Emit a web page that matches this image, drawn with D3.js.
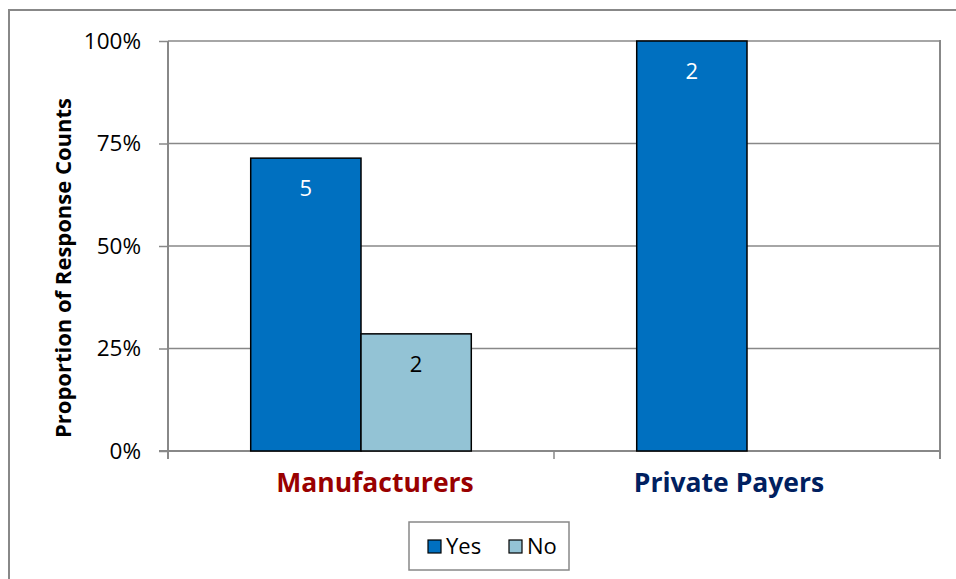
<!DOCTYPE html>
<html><head><meta charset="utf-8">
<script src="https://cdn.jsdelivr.net/npm/d3@7"></script>
<style>body{margin:0;background:#fff}svg{display:block}text{font-family:"Open Sans",sans-serif}</style>
</head><body>
<svg id="c" width="956" height="579"></svg>
<script>
const categories = ["Manufacturers", "Private Payers"];
const seriesNames = ["Yes", "No"];
const yesValues = [5/7, 1.0];
const noValues = [2/7, 0];
const yesCounts = [5, 2];
const noCounts = [2, 0];
const yTicks = [0, 0.25, 0.5, 0.75, 1.0];
const yTickLabels = ["0%", "25%", "50%", "75%", "100%"];
const colors = {Yes: "#0070C0", No: "#93C3D5"};
const catColors = ["#990000", "#002060"];

const svg = d3.select("#c");
const m = {l: 168, r: 940, t: 41, b: 451};
// outer frame
svg.append("rect").attr("x", 9).attr("y", 10).attr("width", 960).attr("height", 600)
  .attr("fill", "none").attr("stroke", "#888").attr("stroke-width", 2);

const x0 = d3.scaleBand().domain(categories).range([m.l, m.r]).paddingInner(0).paddingOuter(0);
const x1 = d3.scaleBand().domain(seriesNames).range([0, x0.bandwidth()]).paddingInner(0).paddingOuter(0.75);
const y = d3.scaleLinear().domain([0, 1]).range([m.b, m.t]);

// gridlines
svg.append("g").selectAll("line").data(yTicks.slice(1)).join("line")
  .attr("x1", m.l).attr("x2", m.r).attr("y1", d => y(d)).attr("y2", d => y(d))
  .attr("stroke", "#888").attr("stroke-width", 1.5);
// right border of plot
svg.append("line").attr("x1", m.r).attr("x2", m.r).attr("y1", m.t - 1).attr("y2", m.b + 8)
  .attr("stroke", "#888").attr("stroke-width", 2);

// y axis
const yAxis = svg.append("g").attr("transform", `translate(${m.l},0)`)
  .call(d3.axisLeft(y).tickValues(yTicks).tickFormat((d, i) => yTickLabels[i]).tickSize(9).tickPadding(18));
yAxis.select(".domain").attr("stroke", "#888").attr("stroke-width", 2).attr("d", `M0,${m.t}V${m.b + 8}`);
yAxis.selectAll(".tick line").attr("stroke", "#888").attr("stroke-width", 1.5);
yAxis.selectAll(".tick text").attr("font-size", 22.5).attr("fill", "#000").style("font-family", "Open Sans");

// x axis
const xAxis = svg.append("g").attr("transform", `translate(0,${m.b})`);
xAxis.append("line").attr("x1", m.l - 9).attr("x2", m.r).attr("y1", 0).attr("y2", 0)
  .attr("stroke", "#888").attr("stroke-width", 2);
xAxis.selectAll("line.t").data([m.l, m.l + x0.bandwidth(), m.r]).join("line").attr("class", "t")
  .attr("x1", d => d).attr("x2", d => d).attr("y1", 0).attr("y2", 8)
  .attr("stroke", "#888").attr("stroke-width", 1.5);
const labelOffsets = [14, -18];
xAxis.selectAll("text.cat").data(categories).join("text").attr("class", "cat")
  .attr("x", (d, i) => x0(d) + x0.bandwidth() / 2 + labelOffsets[i]).attr("y", 41)
  .attr("text-anchor", "middle").attr("font-size", 26.5).attr("font-weight", "bold")
  .attr("fill", (d, i) => catColors[i]).text(d => d);

// bars
const rows = categories.map((c, i) => ({c, vals: [
  {s: "Yes", v: yesValues[i], n: yesCounts[i]},
  {s: "No", v: noValues[i], n: noCounts[i]}]}));
const g = svg.append("g").selectAll("g").data(rows).join("g")
  .attr("transform", d => `translate(${x0(d.c)},0)`);
g.selectAll("rect").data(d => d.vals.filter(v => v.v > 0)).join("rect")
  .attr("x", d => x1(d.s)).attr("width", x1.bandwidth())
  .attr("y", d => y(d.v)).attr("height", d => y(0) - y(d.v))
  .attr("fill", d => colors[d.s]).attr("stroke", "#000").attr("stroke-width", 1.5);
g.selectAll("text").data(d => d.vals.filter(v => v.v > 0)).join("text")
  .attr("x", d => x1(d.s) + x1.bandwidth() / 2).attr("y", d => y(d.v) + 38)
  .attr("text-anchor", "middle").attr("font-size", 22)
  .attr("fill", d => d.s === "Yes" ? "#fff" : "#000").text(d => d.n);

// y title
svg.append("text").attr("transform", "translate(71,268) rotate(-90)")
  .attr("text-anchor", "middle").attr("font-size", 22).attr("font-weight", "bold")
  .text("Proportion of Response Counts");

// legend
const lg = svg.append("g");
lg.append("rect").attr("x", 409).attr("y", 522).attr("width", 160).attr("height", 48)
  .attr("fill", "#fff").attr("stroke", "#888").attr("stroke-width", 1.5);
const legX = [428, 509];
seriesNames.forEach((s, i) => {
  lg.append("rect").attr("x", legX[i]).attr("y", 540).attr("width", 13).attr("height", 13)
    .attr("fill", colors[s]).attr("stroke", "#000").attr("stroke-width", 1.2);
  lg.append("text").attr("x", legX[i] + 18).attr("y", 554).attr("font-size", 22).text(s);
});
</script>
</body></html>
